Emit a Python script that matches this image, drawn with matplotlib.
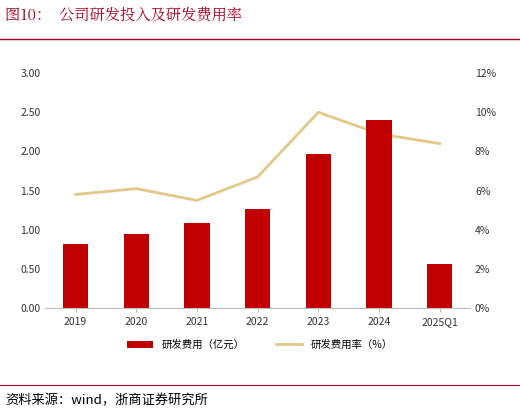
import matplotlib
matplotlib.use("Agg")
import matplotlib.pyplot as plt
from matplotlib.ticker import FuncFormatter
from matplotlib.lines import Line2D

plt.rcParams['font.family'] = ['Noto Sans CJK SC', 'DejaVu Sans']

categories = ['2019', '2020', '2021', '2022', '2023', '2024', '2025Q1']
rd_expense = [0.82, 0.94, 1.08, 1.26, 1.97, 2.40, 0.56]
rd_ratio = [5.8, 6.1, 5.5, 6.7, 10.0, 8.9, 8.4]

fig = plt.figure(figsize=(5.2, 4.13), dpi=100)
ax = fig.add_axes([0.087, 0.254, 0.817, 0.569])
x = range(len(categories))
ax.bar(x, rd_expense, width=0.42, color='#C00000', label='研发费用（亿元）')
ax.set_ylim(0, 3)
ax.set_yticks([0, 0.5, 1, 1.5, 2, 2.5, 3])
ax.yaxis.set_major_formatter(FuncFormatter(lambda v, p: f'{v:.2f}'))
ax.set_xlim(-0.5, len(categories) - 0.5)
ax.set_xticks(list(x))
ax.set_xticklabels(categories)
ax2 = ax.twinx()
ax2.plot(list(x), rd_ratio, color='#E2C98A', linewidth=2, label='研发费用率（%）')
ax2.set_ylim(0, 12)
ax2.set_yticks(range(0, 13, 2))
ax2.yaxis.set_major_formatter(FuncFormatter(lambda v, p: f'{int(v)}%'))
ax.set_zorder(2)
ax.patch.set_visible(False)
ax2.set_zorder(1)
for a in (ax, ax2):
    for s in ('top', 'right', 'left'):
        a.spines[s].set_visible(False)
    a.spines['bottom'].set_color('#BFBFBF')
    a.tick_params(length=0, labelsize=7.5, colors='#333333')
ax.tick_params(axis='x', length=3, color='#BFBFBF')

h1, l1 = ax.get_legend_handles_labels()
h2, l2 = ax2.get_legend_handles_labels()
fig.legend(h1 + h2, l1 + l2, loc='center', bbox_to_anchor=(0.5, 0.165), ncol=2,
           frameon=False, fontsize=7.5, handlelength=2.5, columnspacing=3)

fig.text(0.01, 0.962, '图10：  公司研发投入及研发费用率', color='#A50021', fontsize=11,
         va='center', ha='left', family=['Noto Serif CJK SC', 'Noto Sans CJK SC', 'DejaVu Sans'])
fig.add_artist(Line2D([0.0, 1.0], [0.905, 0.905], color='#A50021', linewidth=1, transform=fig.transFigure))
fig.add_artist(Line2D([0.0, 1.0], [0.068, 0.068], color='#A50021', linewidth=0.8, transform=fig.transFigure))
fig.text(0.01, 0.03, '资料来源：wind，浙商证券研究所', fontsize=9.5, va='center', ha='left', color='#000000')

fig.savefig('out.png', dpi=100)
